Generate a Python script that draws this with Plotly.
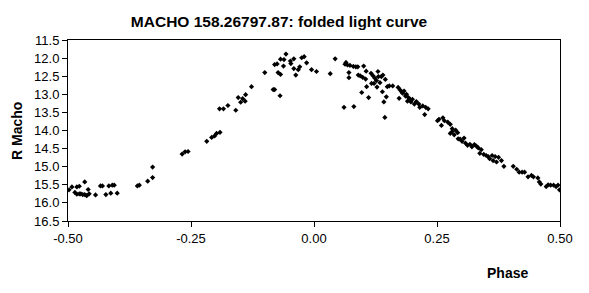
import plotly.graph_objects as go

phase = [
    -0.498, -0.492, -0.486, -0.482, -0.482, -0.477, -0.477, -0.474, -0.470, -0.466,
    -0.466, -0.462, -0.459, -0.457, -0.444, -0.434, -0.430, -0.423, -0.417, -0.413,
    -0.410, -0.406, -0.400, -0.359, -0.355, -0.338, -0.328, -0.328, -0.268, -0.262,
    -0.256, -0.218, -0.208, -0.202, -0.198, -0.191, -0.192, -0.184, -0.175,
    -0.159, -0.154, -0.149, -0.145, -0.140, -0.139, -0.127, -0.100, -0.083, -0.080,
    -0.080, -0.075, -0.073, -0.069, -0.068, -0.068, -0.062, -0.061, -0.057, -0.048,
    -0.047, -0.041, -0.041, -0.037, -0.032, -0.029, -0.025, -0.020, -0.015, -0.005,
    0.005, 0.033, 0.043, 0.061, 0.063, 0.065, 0.068, 0.071, 0.071, 0.073,
    0.080, 0.081, 0.085, 0.089, 0.090, 0.094, 0.097, 0.099, 0.101, 0.105,
    0.106, 0.107, 0.111, 0.116, 0.117, 0.120, 0.122, 0.124, 0.127, 0.128,
    0.130, 0.131, 0.134, 0.137, 0.139, 0.140, 0.142, 0.144, 0.145, 0.147,
    0.149, 0.153, 0.160, 0.171, 0.173, 0.175, 0.178, 0.180, 0.183, 0.186,
    0.188, 0.190, 0.192, 0.195, 0.197, 0.200, 0.204, 0.208, 0.213, 0.215,
    0.221, 0.225, 0.227, 0.232, 0.251, 0.254, 0.259, 0.262, 0.265, 0.272,
    0.277, 0.281, 0.277, 0.281, 0.285, 0.288, 0.292, 0.293, 0.297, 0.301,
    0.305, 0.308, 0.312, 0.317, 0.321, 0.326, 0.330, 0.334, 0.337, 0.340,
    0.345, 0.350, 0.354, 0.357, 0.362, 0.364, 0.368, 0.371, 0.375, 0.381,
    0.386, 0.405, 0.412, 0.417, 0.423, 0.428, 0.435, 0.442, 0.446, 0.455,
    0.458, 0.461, 0.472, 0.476, 0.481, 0.487, 0.492, 0.496, 0.499,
]

r_mag = [
    15.64, 15.56, 15.71, 15.56, 15.76, 15.54, 15.75, 15.75, 15.77, 15.42,
    15.77, 15.80, 15.63, 15.75, 15.78, 15.53, 15.53, 15.77, 15.53, 15.73,
    15.51, 15.51, 15.73, 15.53, 15.51, 15.40, 15.30, 15.01, 14.65, 14.59,
    14.58, 14.30, 14.19, 14.15, 14.08, 14.05, 13.40, 13.40, 13.31,
    13.44, 13.09, 13.22, 13.12, 13.19, 13.01, 12.79, 12.40, 12.87, 12.87,
    12.18, 12.16, 12.40, 13.04, 12.45, 12.03, 12.22, 12.04, 11.89, 12.08,
    12.15, 12.02, 12.29, 12.47, 12.32, 12.24, 11.99, 11.96, 12.13, 12.32,
    12.37, 12.43, 12.02, 13.36, 12.17, 12.12, 12.19, 12.40, 12.54, 12.20,
    12.23, 13.34, 12.24, 12.24, 12.47, 12.49, 12.95, 12.53, 12.22, 12.58,
    12.36, 12.79, 13.09, 12.42, 12.70, 12.49, 12.70, 12.56, 12.62, 12.80,
    12.37, 12.51, 12.68, 12.51, 12.93, 12.47, 13.21, 13.64, 12.59, 13.07,
    12.79, 12.77, 12.77, 12.81, 13.11, 12.88, 12.93, 12.97, 12.91, 13.05,
    13.00, 13.19, 13.09, 13.14, 13.21, 13.14, 13.27, 13.20, 13.27, 13.36,
    13.32, 13.56, 13.36, 13.40, 13.73, 13.69, 13.86, 13.65, 13.73, 13.77,
    13.83, 13.95, 14.08, 14.03, 14.12, 13.99, 14.06, 14.23, 14.24, 14.30,
    14.21, 14.35, 14.41, 14.38, 14.45, 14.39, 14.43, 14.48, 14.63, 14.53,
    14.66, 14.69, 14.72, 14.78, 14.69, 14.83, 14.72, 14.87, 14.74, 14.83,
    14.99, 14.99, 15.07, 15.15, 15.15, 15.15, 15.28, 15.24, 15.28, 15.31,
    15.42, 15.48, 15.55, 15.50, 15.51, 15.51, 15.55, 15.51, 15.64,
]

x_ticks = [-0.50, -0.25, 0.00, 0.25, 0.50]
y_ticks = [11.5, 12.0, 12.5, 13.0, 13.5, 14.0, 14.5, 15.0, 15.5, 16.0, 16.5]

FONT = "Liberation Sans, Arial, sans-serif"

fig = go.Figure()
fig.add_trace(go.Scatter(
    x=phase, y=r_mag, mode="markers",
    marker=dict(symbol="diamond", size=4, color="black", line=dict(width=0)),
    showlegend=False,
))

fig.update_layout(
    width=589, height=293,
    margin=dict(l=68, r=29, t=40, b=72),
    paper_bgcolor="white", plot_bgcolor="white",
    font=dict(family=FONT, size=13, color="black"),
    title=dict(text="<b>MACHO 158.26797.87: folded light curve</b>",
               x=279 / 589, xanchor="center", y=1 - 22 / 293, yanchor="middle",
               font=dict(family=FONT, size=15.5, color="black")),
    xaxis=dict(range=[-0.5, 0.5], tickvals=x_ticks,
               ticktext=[f"{v:.2f}" for v in x_ticks],
               showgrid=False, zeroline=False, showline=True, linecolor="black",
               linewidth=1, mirror=True, ticks="outside", ticklen=5,
               tickcolor="black", tickfont=dict(family=FONT, size=13)),
    yaxis=dict(range=[16.5, 11.5], tickvals=y_ticks,
               ticktext=[f"{v:.1f}" for v in y_ticks],
               showgrid=False, zeroline=False, showline=True, linecolor="black",
               linewidth=1, mirror=True, ticks="outside", ticklen=5,
               tickcolor="black", tickfont=dict(family=FONT, size=13)),
    annotations=[
        dict(text="<b>Phase</b>", xref="paper", yref="paper",
             x=(507 - 68) / 492, y=-(273 - 221) / 181, xanchor="center",
             yanchor="middle", showarrow=False,
             font=dict(family=FONT, size=14, color="black")),
        dict(text="<b>R Macho</b>", xref="paper", yref="paper",
             x=-(68 - 17) / 492, y=(221 - 131) / 181, xanchor="center",
             yanchor="middle", showarrow=False, textangle=-90,
             font=dict(family=FONT, size=14, color="black")),
    ],
)

fig.write_html("out.html")
